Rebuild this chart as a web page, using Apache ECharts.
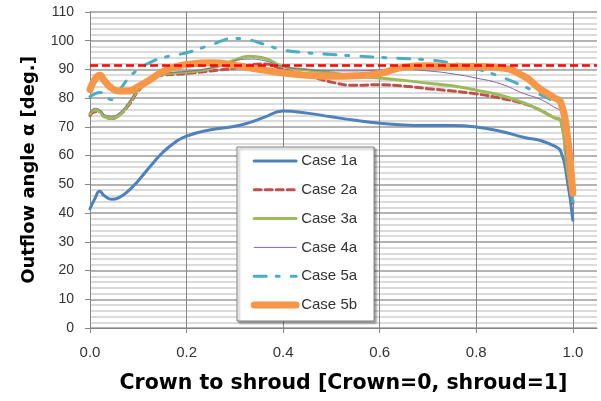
<!DOCTYPE html>
<html><head><meta charset="utf-8">
<script src="https://cdn.jsdelivr.net/npm/echarts@6/dist/echarts.min.js"></script>
<style>html,body{margin:0;padding:0;background:#fff}#c{width:601px;height:401px}</style>
</head><body><div id="c"></div>
<script>
// positions along crown-to-shroud (0..1)
const xPos   = [0, 0.01, 0.02, 0.03, 0.045, 0.06, 0.08, 0.1, 0.125, 0.15, 0.175, 0.2, 0.25, 0.3, 0.33, 0.36, 0.4, 0.45, 0.5, 0.55, 0.6, 0.65, 0.7, 0.75, 0.8, 0.85, 0.9, 0.93, 0.96, 0.975, 0.988, 1.0];
const case1a = [41.5, 45, 47.6, 46, 44.8, 45.4, 47.8, 51.3, 56.3, 61, 64.5, 66.8, 69, 70.2, 71.5, 73.3, 75.5, 74.8, 73.5, 72.3, 71.3, 70.7, 70.5, 70.5, 70, 68.5, 66.3, 65.4, 63.5, 61.5, 52, 37.5];
const case2a = [74, 75.3, 75.3, 73.5, 73, 74, 77.5, 82.5, 86.5, 88, 88.3, 88.6, 89.5, 90.5, 91.5, 91.9, 90, 88, 85.6, 84.5, 84.7, 84.2, 83.3, 82.5, 81.5, 80, 78, 76, 73.3, 72, 56, 43.5];
const case3a = [74.5, 75.8, 75.5, 73.5, 73, 74, 78, 83, 87, 88.3, 88.8, 89.1, 90.3, 93.3, 94.6, 94, 91, 89.8, 88.8, 87.8, 87, 86.2, 85.2, 84.3, 82.8, 81, 78.3, 76, 73.3, 72, 56, 44];
const case4a = [75, 76.5, 76, 74.3, 73.8, 74.8, 78.5, 83.5, 87.3, 88.5, 89, 89.3, 90.5, 93, 93.6, 93.1, 91, 90, 89.5, 89.5, 89.8, 90, 89.5, 88.5, 87, 85, 81.5, 79.8, 77, 75, 58, 45];
const case5a = [80.5, 81.5, 82, 81, 79.5, 82.5, 87, 90, 92.5, 94, 95, 95.8, 98.5, 100.8, 100.3, 98.8, 96.8, 95.8, 95.2, 94.7, 94.2, 93.8, 93.3, 92.2, 90.2, 87.5, 84, 81.5, 79, 77.5, 62, 44];
const case5b = [83, 86.5, 88, 86, 83.5, 82.5, 82.5, 84, 86.5, 89.2, 90.8, 91.7, 92.3, 91.5, 90.6, 89.8, 88.8, 88, 87.6, 87.8, 88.6, 90.8, 91.3, 91, 91, 90.6, 87.5, 83.5, 80.3, 78.5, 68, 47];
const refValue = 91.4;
const seriesNames = ['Case 1a', 'Case 2a', 'Case 3a', 'Case 4a', 'Case 5a', 'Case 5b'];

const pair = arr => xPos.map((x, i) => [x, arr[i]]);
const styles = [
  {color: '#4F81BD', width: 3, type: 'solid'},
  {color: '#C0504D', width: 3, type: [7, 4]},
  {color: '#9BBB59', width: 3, type: 'solid'},
  {color: '#8064A2', width: 1, type: 'solid'},
  {color: '#4BACC6', width: 3, type: [12, 10, 3, 12]},
  {color: '#F79646', width: 7, type: 'solid'}
];
const values = [case1a, case2a, case3a, case4a, case5a, case5b];

const series = seriesNames.map((n, i) => ({
  name: n, type: 'line', data: pair(values[i]), showSymbol: false, symbol: 'none',
  smooth: 0.5,
  lineStyle: {color: styles[i].color, width: styles[i].width, type: styles[i].type, cap: 'round', join: 'round'},
  itemStyle: {color: styles[i].color}
}));
series.push({
  name: 'ref', type: 'line', data: [[0, refValue], [1.05, refValue]], symbol: 'none',
  lineStyle: {color: '#FF0000', width: 2.5, type: [8, 4]}, silent: true
});

const chart = echarts.init(document.getElementById('c'));
chart.setOption({
  animation: false,
  backgroundColor: '#fff',
  grid: {left: 90, right: 4, top: 12, bottom: 73},
  legend: {
    data: seriesNames.map((n, i) => ({
      name: n,
      lineStyle: {width: styles[i].width, type: styles[i].type, color: styles[i].color, cap: 'round'}
    })),
    orient: 'vertical', left: 237, top: 147,
    itemWidth: 42, itemHeight: 15, itemGap: 13.8,
    padding: [6.5, 17, 8.5, 13.7],
    backgroundColor: '#fff', borderColor: '#7f7f7f', borderWidth: 1,
    shadowColor: 'rgba(0,0,0,0.35)', shadowBlur: 2, shadowOffsetX: 2, shadowOffsetY: 2,
    itemStyle: {opacity: 0},
    textStyle: {fontFamily: 'Liberation Sans', fontSize: 15, color: '#333'}
  },
  xAxis: {
    type: 'value', min: 0, max: 1.05, interval: 0.2,
    name: 'Crown to shroud [Crown=0, shroud=1]', nameLocation: 'middle', nameGap: 45,
    nameTextStyle: {fontFamily: 'DejaVu Sans', fontWeight: 'bold', fontSize: 20.5, color: '#000'},
    axisLine: {show: true, lineStyle: {color: '#868686'}},
    axisTick: {show: true, length: 5, lineStyle: {color: '#868686'}},
    axisLabel: {fontFamily: 'Liberation Sans', fontSize: 15, color: '#333', margin: 17, showMaxLabel: false,
      formatter: v => v > 1.001 ? '' : v.toFixed(1)},
    splitLine: {show: true, showMaxLine: false, lineStyle: {color: '#868686'}}
  },
  yAxis: {
    type: 'value', min: 0, max: 110, interval: 10,
    name: 'Outflow angle α [deg.]', nameLocation: 'middle', nameGap: 52,
    nameTextStyle: {fontFamily: 'DejaVu Sans', fontWeight: 'bold', fontSize: 18, color: '#000'},
    axisLine: {show: true, lineStyle: {color: '#868686'}},
    axisTick: {show: true, length: 5, lineStyle: {color: '#868686'}},
    axisLabel: {fontFamily: 'Liberation Sans', fontSize: 14, color: '#333', margin: 16},
    splitLine: {show: true, lineStyle: {color: '#9a9a9a', width: 1.5}},
    minorTick: {show: false, splitNumber: 5},
    minorSplitLine: {show: true, lineStyle: {color: '#cfcfcf', width: 1.5}}
  },
  series: series
});
</script></body></html>
